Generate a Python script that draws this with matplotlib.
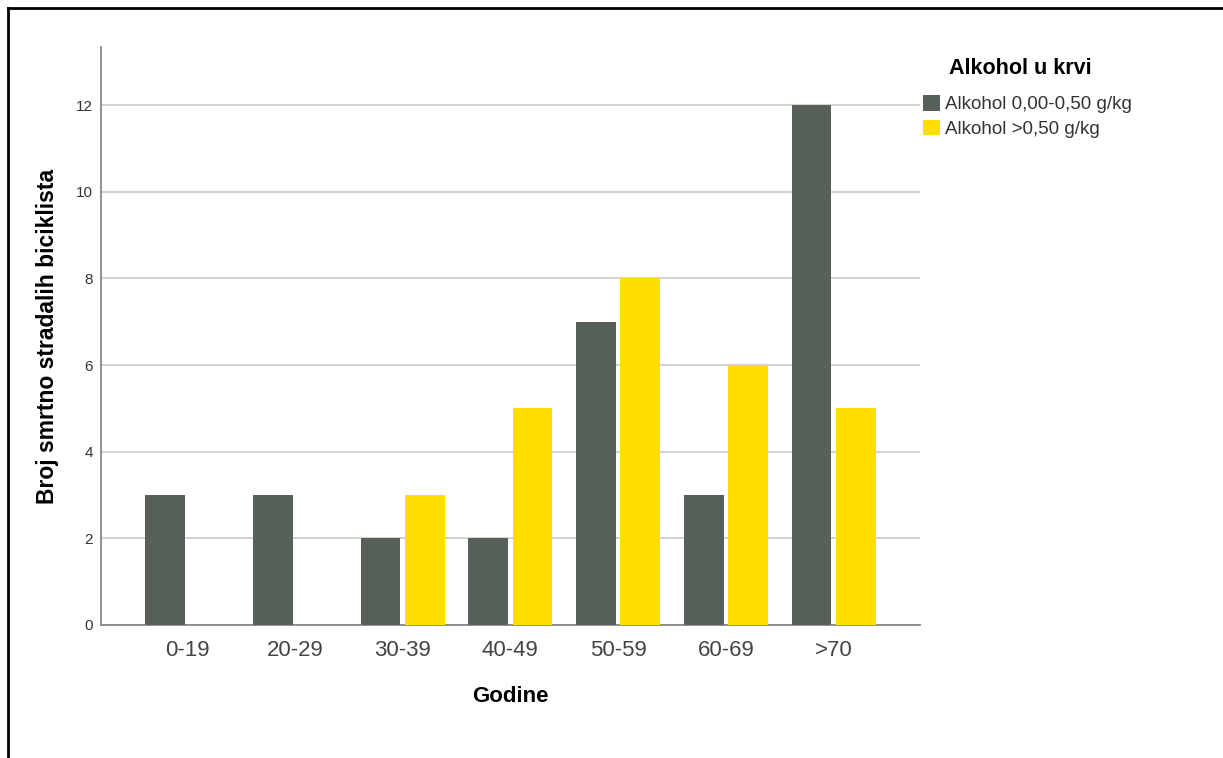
import numpy as np
from matplotlib import pyplot as plt
from matplotlib.patches import Patch
from matplotlib.lines import Line2D

categories = ['0-19', '20-29', '30-39', '40-49', '50-59', '60-69', '>70']
alk_low = [3, 3, 2, 2, 7, 3, 12]
alk_high = [0, 0, 3, 5, 8, 6, 5]
series_names = ['Alkohol 0,00-0,50 g/kg', 'Alkohol >0,50 g/kg']
colors = ['#576159', '#FFDE00']

plt.rcParams['font.family'] = ['Arial', 'Liberation Sans', 'DejaVu Sans']

fig = plt.figure(figsize=(12.23, 7.58), dpi=100)
ax = fig.add_axes([0.0826, 0.1755, 0.6694, 0.7625])

x = np.arange(len(categories))
w = 0.37
off = 0.205
ax.bar(x - off, alk_low, w, color=colors[0], zorder=3)
ax.bar(x + off, alk_high, w, color=colors[1], zorder=3)

ax.set_xlim(-0.8, 6.8)
ax.set_ylim(0, 13.34)
ax.set_yticks(range(0, 13, 2))
ax.set_xticks(x)
ax.set_xticklabels(categories, fontsize=16, color='#444444')
ax.tick_params(axis='y', length=0, labelsize=11, colors='#333333', pad=6)
ax.tick_params(axis='x', length=0, pad=10.5)
ax.grid(axis='y', color='#cfcfcf', linewidth=1.3, zorder=0)
for s in ['top', 'right']:
    ax.spines[s].set_visible(False)
for s in ['left', 'bottom']:
    ax.spines[s].set_color('#888888')
    ax.spines[s].set_linewidth(1.3)

ax.set_xlabel('Godine', fontsize=16, fontweight='bold', labelpad=18)
ax.set_ylabel('Broj smrtno stradalih biciklista', fontsize=16.5, fontweight='bold', labelpad=12)

handles = [Patch(facecolor=c) for c in colors]
fig.text(0.834, 0.91, 'Alkohol u krvi', fontsize=15.5, fontweight='bold',
         ha='center', va='center')
leg = fig.legend(handles, series_names, loc='upper left', bbox_to_anchor=(0.744, 0.892),
                 frameon=False, fontsize=13.5,
                 handlelength=0.9, handleheight=0.9, handletextpad=0.25,
                 labelspacing=0.35, borderpad=0.2)
for t in leg.get_texts():
    t.set_color('#333333')

# border of the screenshot (top and left)
fig.add_artist(Line2D([0.0065, 0.0065], [0, 0.99], transform=fig.transFigure, color='black', linewidth=2))
fig.add_artist(Line2D([0.0065, 1], [0.99, 0.99], transform=fig.transFigure, color='black', linewidth=2))

fig.savefig('out.png', dpi=100)
